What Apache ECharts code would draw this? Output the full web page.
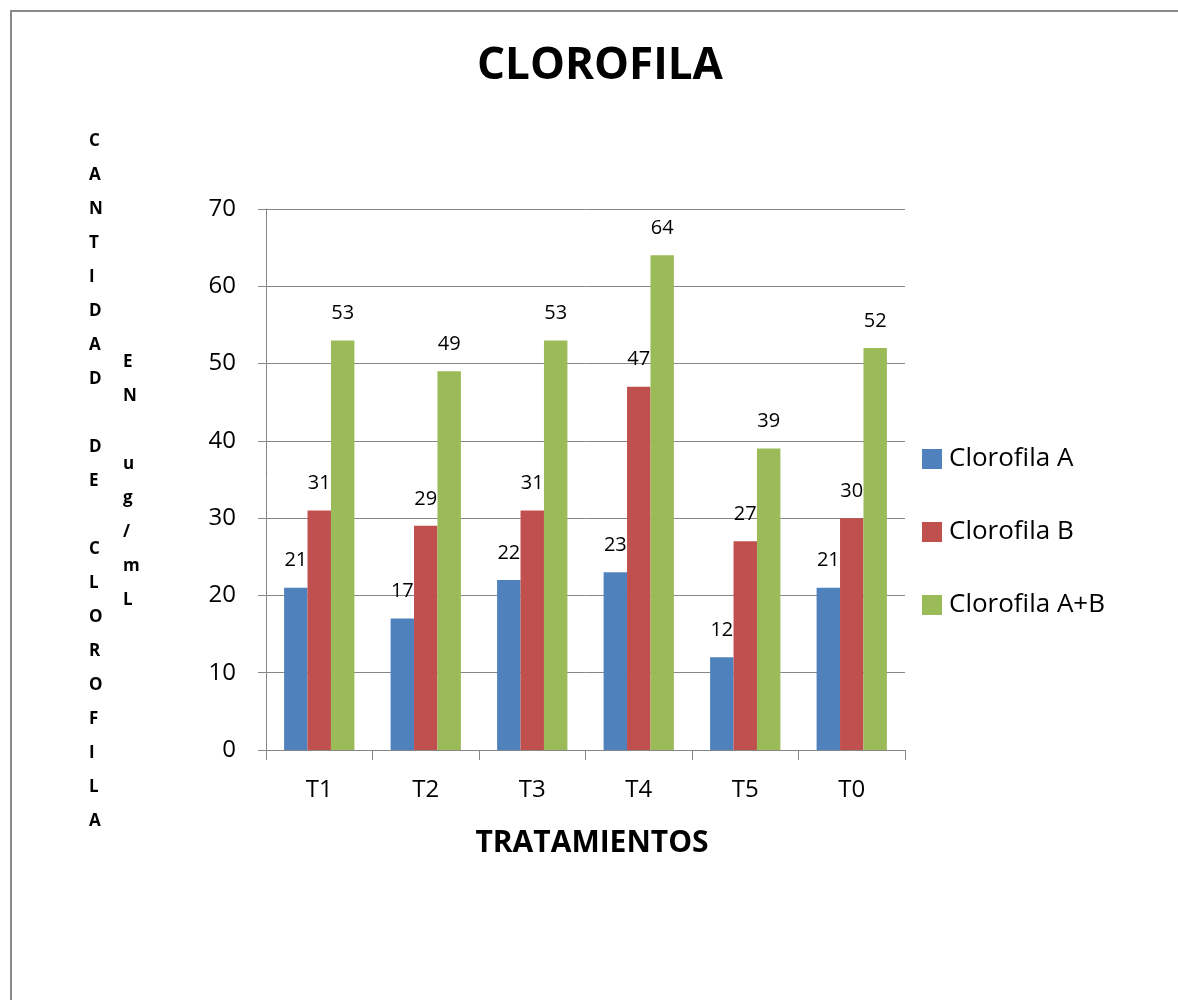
<!DOCTYPE html>
<html>
<head>
<meta charset="utf-8">
<script src="https://cdn.jsdelivr.net/npm/echarts@6/dist/echarts.min.js"></script>
<style>
html,body{margin:0;padding:0;background:#fff;}
#c{width:1178px;height:1000px;}
</style>
</head>
<body>
<div id="c"></div>
<script>
const categories = ['T1', 'T2', 'T3', 'T4', 'T5', 'T0'];
const clorofilaA = [21, 17, 22, 23, 12, 21];
const clorofilaB = [31, 29, 31, 47, 27, 30];
const clorofilaAB = [53, 49, 53, 64, 39, 52];
const seriesNames = ['Clorofila A', 'Clorofila B', 'Clorofila A+B'];
const yTicks = [0, 10, 20, 30, 40, 50, 60, 70];

const FONT = '"Open Sans", sans-serif';
const chart = echarts.init(document.getElementById('c'));

function labelCol(str) { return str.split('').join('\n'); }

const labelStyle = {
  show: true, position: 'top', distance: 17,
  fontFamily: FONT, fontSize: 20, color: '#000'
};

chart.setOption({
  animation: false,
  backgroundColor: '#fff',
  color: ['#4F81BD', '#C0504D', '#9BBB59'],
  title: [
    { text: 'CLOROFILA', left: 595, top: 39, textAlign: 'center',
      textStyle: { fontFamily: FONT, fontWeight: 'bold', fontSize: 44, color: '#000' } },
    { text: 'TRATAMIENTOS', left: 587, top: 823, textAlign: 'center',
      textStyle: { fontFamily: FONT, fontWeight: 'bold', fontSize: 30, color: '#000' } }
  ],
  legend: {
    orient: 'vertical', left: 917, top: 441, icon: 'rect',
    itemWidth: 20, itemHeight: 20, itemGap: 47,
    textStyle: { fontFamily: FONT, fontSize: 26, color: '#000', padding: [0, 0, 0, 2] },
    data: seriesNames
  },
  grid: { left: 266, right: 273, top: 209, bottom: 250, containLabel: false },
  xAxis: {
    type: 'category', data: categories,
    axisLine: { lineStyle: { color: '#868686', width: 1 } },
    axisTick: { show: true, length: 10, lineStyle: { color: '#868686' } },
    axisLabel: { margin: 28, fontFamily: FONT, fontSize: 24, color: '#000' }
  },
  yAxis: {
    type: 'value', min: 0, max: 70, interval: 10,
    axisLine: { show: true, lineStyle: { color: '#868686' } },
    axisTick: { show: true, length: 8, lineStyle: { color: '#868686' } },
    axisLabel: { margin: 30, fontFamily: FONT, fontSize: 24, color: '#000' },
    splitLine: { lineStyle: { color: '#868686', width: 1 } }
  },
  graphic: [
    { type: 'rect', shape: { x: 11, y: 11, width: 1180, height: 1000 },
      style: { fill: 'none', stroke: '#8a8a8a', lineWidth: 2 }, silent: true },
    { type: 'text', left: 89, top: 124,
      style: { text: labelCol('CANTIDAD DE CLOROFILA'), fontFamily: FONT, fontWeight: 'bold',
        fontSize: 17, lineHeight: 34, fill: '#000', align: 'center' } },
    { type: 'text', left: 123, top: 345,
      style: { text: labelCol('EN ug/mL'), fontFamily: FONT, fontWeight: 'bold',
        fontSize: 17, lineHeight: 34, fill: '#000', align: 'center' } }
  ],
  series: [
    { name: seriesNames[0], type: 'bar', data: clorofilaA, barGap: '0%', barCategoryGap: '34%', label: labelStyle },
    { name: seriesNames[1], type: 'bar', data: clorofilaB, label: labelStyle },
    { name: seriesNames[2], type: 'bar', data: clorofilaAB, label: labelStyle }
  ]
});
</script>
</body>
</html>
